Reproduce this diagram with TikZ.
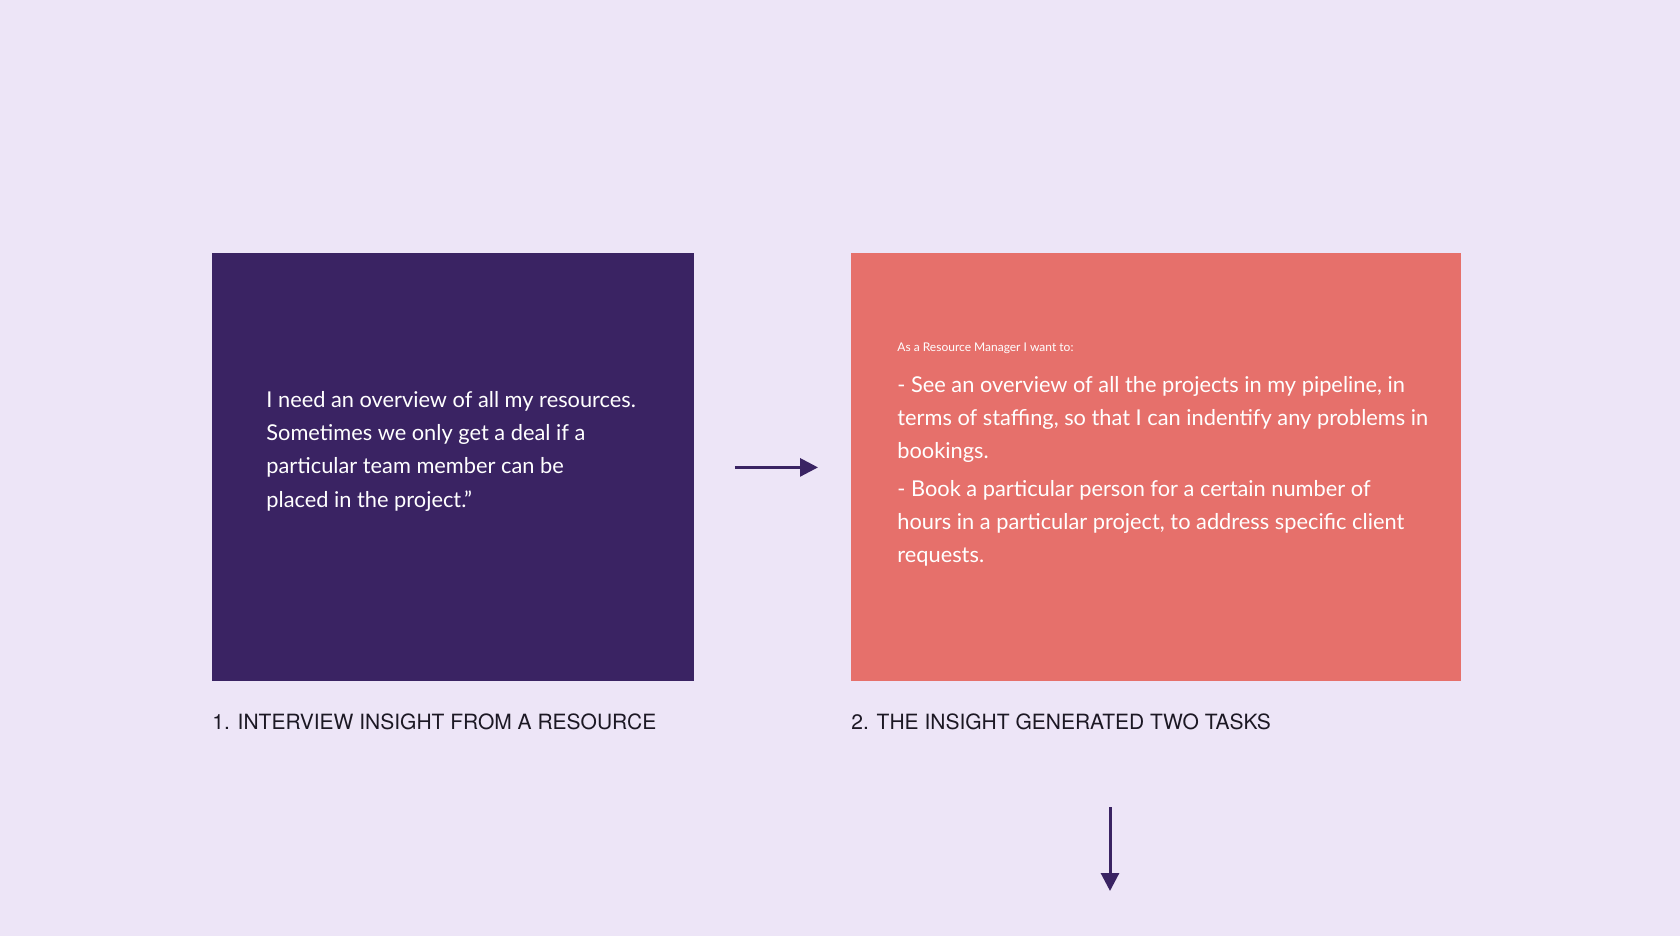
\documentclass[tikz,border=0pt]{standalone}
\usepackage{fontspec}
\setmainfont{Lato}
\setsansfont{TeX Gyre Heros}
\usetikzlibrary{positioning, arrows.meta}
\definecolor{pagebg}{HTML}{EDE5F7}
\definecolor{plum}{HTML}{3A2363}
\definecolor{coral}{HTML}{E6706B}
\definecolor{captionink}{HTML}{1C1824}
\tikzset{
  card/.style={rectangle, draw=none, inner sep=0pt, anchor=north west, minimum height=214pt},
  cardtext/.style={text=white, align=left, anchor=north west, inner sep=0pt, font=\fontsize{10.9}{16.6}\selectfont},
  smallnote/.style={text=white, anchor=base west, inner sep=0pt, font=\fontsize{6}{8}\selectfont},
  caption/.style={text=captionink, anchor=base west, inner sep=0pt, font=\sffamily\fontsize{10.5}{13}\selectfont},
  flow/.style={draw=plum, line width=1.5pt, -{Triangle[length=9pt, width=9pt]}},
}
\begin{document}
\begin{tikzpicture}[x=0.5pt, y=-0.5pt]
\fill[pagebg] (0,0) rectangle (1680,936);
\useasboundingbox (0,0) rectangle (1680,936);
% the two cards
\node[card, fill=plum, minimum width=241pt] (insight) at (212,253) {};
\node[card, fill=coral, minimum width=305pt] (tasks) at (851,253) {};
% card texts
\node[cardtext] (quote) at (266,391) {I need an overview of all my resources.\\
Sometimes we only get a deal if a\\
particular team member can be\\
placed in the project.''};
\node[smallnote] (wantnote) at (897,351) {As a Resource Manager I want to:};
\node[cardtext] (taskone) at (897,376) {- See an overview of all the projects in my pipeline, in\\
terms of staffing, so that I can indentify any problems in\\
bookings.};
\node[cardtext, below=8.4pt of taskone.south west, anchor=north west] (tasktwo) {- Book a particular person for a certain number of\\
hours in a particular project, to address specific client\\
requests.};
% captions
\node[caption] (capone) at (212,729) {1. INTERVIEW INSIGHT FROM A RESOURCE};
\node[caption] (captwo) at (851,729) {2. THE INSIGHT GENERATED TWO TASKS};
% arrows
\draw[flow, shorten <=20pt, shorten >=16.5pt] (insight.east) -- (tasks.west);
\coordinate (downtop) at (1110,807);
\coordinate (downend) at (1110,891);
\draw[flow] (downtop) -- (downend);
\end{tikzpicture}
\end{document}
